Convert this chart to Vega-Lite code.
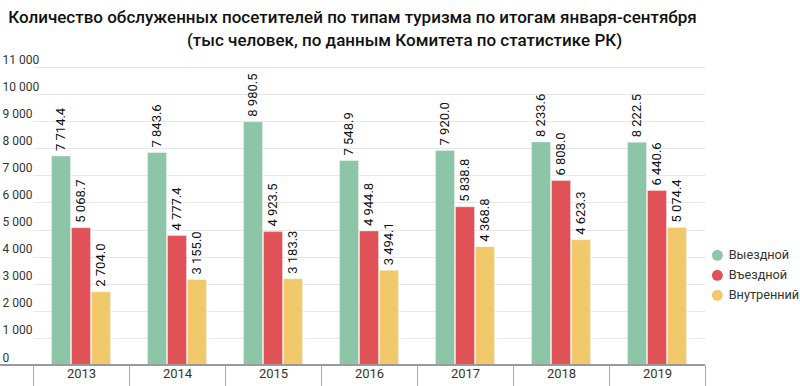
{
  "$schema": "https://vega.github.io/schema/vega-lite/v6.json",
  "width": 705,
  "height": 298,
  "autosize": {"type": "none"},
  "padding": {"left": 0, "top": 67, "right": 95, "bottom": 21},
  "background": "white",
  "title": {
    "text": ["Количество обслуженных посетителей по типам туризма по итогам января-сентября", "\u200B\u2003\u2003\u2003\u2003\u2003\u2003(тыс человек, по данным Комитета по статистике РК)"],
    "anchor": "middle",
    "frame": "group",
    "font": "Roboto",
    "fontSize": 17,
    "fontWeight": 500,
    "color": "#111111",
    "lineHeight": 23,
    "offset": 3
  },
  "config": {
    "locale": {"number": {"decimal": ".", "thousands": " ", "grouping": [3], "currency": ["", ""]}},
    "view": {"stroke": null},
    "font": "Roboto"
  },
  "data": {
    "values": [
      {"year": "2013", "type": "Выездной", "value": 7714.4},
      {"year": "2013", "type": "Въездной", "value": 5068.7},
      {"year": "2013", "type": "Внутренний", "value": 2704.0},
      {"year": "2014", "type": "Выездной", "value": 7843.6},
      {"year": "2014", "type": "Въездной", "value": 4777.4},
      {"year": "2014", "type": "Внутренний", "value": 3155.0},
      {"year": "2015", "type": "Выездной", "value": 8980.5},
      {"year": "2015", "type": "Въездной", "value": 4923.5},
      {"year": "2015", "type": "Внутренний", "value": 3183.3},
      {"year": "2016", "type": "Выездной", "value": 7548.9},
      {"year": "2016", "type": "Въездной", "value": 4944.8},
      {"year": "2016", "type": "Внутренний", "value": 3494.1},
      {"year": "2017", "type": "Выездной", "value": 7920.0},
      {"year": "2017", "type": "Въездной", "value": 5838.8},
      {"year": "2017", "type": "Внутренний", "value": 4368.8},
      {"year": "2018", "type": "Выездной", "value": 8233.6},
      {"year": "2018", "type": "Въездной", "value": 6808.0},
      {"year": "2018", "type": "Внутренний", "value": 4623.3},
      {"year": "2019", "type": "Выездной", "value": 8222.5},
      {"year": "2019", "type": "Въездной", "value": 6440.6},
      {"year": "2019", "type": "Внутренний", "value": 5074.4}
    ]
  },
  "encoding": {
    "x": {
      "field": "year",
      "type": "nominal",
      "scale": {"range": [33, 705], "paddingInner": 0, "paddingOuter": 0},
      "axis": {
        "title": null,
        "labelAngle": 0,
        "labelFont": "Roboto",
        "labelFontSize": 13,
        "labelColor": "#333333",
        "labelPadding": -13,
        "labelBaseline": "middle",
        "tickBand": "extent",
        "tickSize": 21,
        "tickColor": "#aaaaaa",
        "tickWidth": 1,
        "domain": false,
        "grid": false
      }
    },
    "xOffset": {
      "field": "type",
      "sort": ["Выездной", "Въездной", "Внутренний"],
      "scale": {"paddingInner": 0.05, "paddingOuter": 0.925}
    },
    "y": {
      "field": "value",
      "type": "quantitative",
      "scale": {"domain": [0, 11000], "nice": false},
      "axis": {
        "title": null,
        "values": [0, 1000, 2000, 3000, 4000, 5000, 6000, 7000, 8000, 9000, 10000, 11000],
        "format": ",d",
        "labelAlign": "left",
        "labelBaseline": "alphabetic",
        "labelOffset": -4,
        "labelPadding": -2,
        "tickSize": 0,
        "ticks": false,
        "domain": false,
        "labelFont": "Roboto",
        "labelFontSize": 12,
        "labelColor": "#333333",
        "gridColor": "#e8e8e8",
        "gridWidth": 1
      }
    }
  },
  "layer": [
    {
      "mark": {"type": "bar", "stroke": "white", "strokeOpacity": 0.35, "strokeWidth": 1},
      "encoding": {
        "color": {
          "field": "type",
          "type": "nominal",
          "sort": ["Выездной", "Въездной", "Внутренний"],
          "scale": {"domain": ["Выездной", "Въездной", "Внутренний"], "range": ["#8dc5a8", "#e05258", "#f0ca6a"]},
          "legend": {
            "title": null,
            "orient": "none",
            "legendX": 711,
            "legendY": 182,
            "symbolType": "circle",
            "symbolSize": 120,
            "symbolStrokeWidth": 0,
            "labelFont": "Roboto",
            "labelFontSize": 12.7,
            "labelColor": "#333333",
            "rowPadding": 6,
            "labelOffset": 5
          }
        }
      }
    },
    {
      "mark": {"type": "text", "angle": -90, "align": "left", "baseline": "middle", "dx": 5, "font": "Roboto", "fontSize": 13, "color": "#111111"},
      "encoding": {
        "text": {"field": "value", "type": "quantitative", "format": ",.1f"}
      }
    },
    {
      "mark": {"type": "rule", "color": "#999999", "strokeWidth": 2},
      "encoding": {
        "y": {"datum": 0},
        "x": null,
        "xOffset": null
      }
    }
  ]
}
